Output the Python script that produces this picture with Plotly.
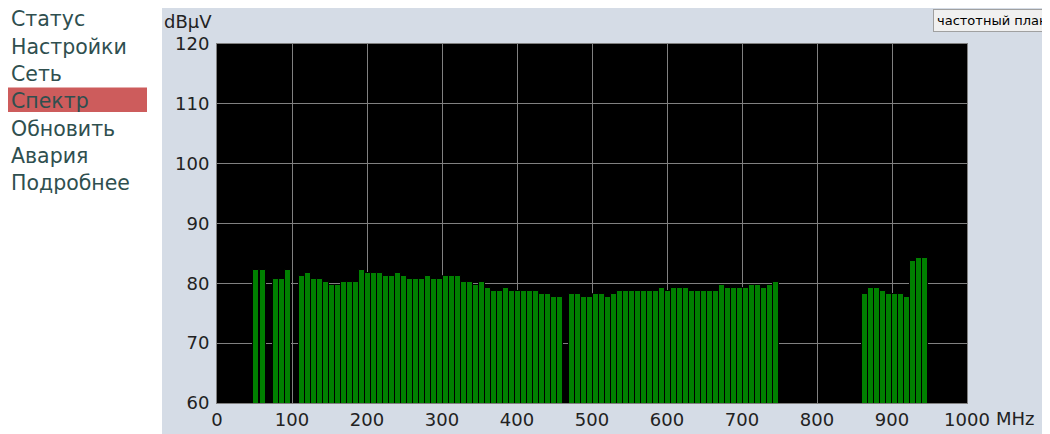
import plotly.graph_objects as go

# ---- data ----
freq_vhf_low = [52, 61, 79, 87, 95]
level_vhf_low = [82.2, 82.2, 80.7, 80.7, 82.2]

freq_cable = [113, 121, 129, 137, 145, 153, 161, 169, 177, 185, 193, 201, 209, 217, 225,
              233, 241, 249, 257, 265, 273, 281, 289, 297, 305, 313, 321, 329, 337, 345,
              353, 361, 369, 377, 385, 393, 401, 409, 417, 425, 433, 441, 449, 457]
level_cable = [81.3, 81.7, 80.7, 80.7, 80.3, 79.7, 79.7, 80.3, 80.3, 80.3, 82.2, 81.7, 81.7, 81.7, 81.3,
               81.3, 81.7, 81.3, 80.7, 80.7, 80.7, 81.3, 80.7, 80.7, 81.3, 81.3, 81.3, 80.3, 80.3, 79.7,
               80.3, 79.3, 78.7, 78.7, 79.3, 78.7, 78.7, 78.7, 78.7, 78.7, 78.3, 78.3, 77.7, 77.7]

freq_uhf = [473, 481, 489, 497, 505, 513, 521, 529, 537, 545, 553, 561, 569, 577, 585,
            593, 601, 609, 617, 625, 633, 641, 649, 657, 665, 673, 681, 689, 697, 705,
            713, 721, 729, 737, 745]
level_uhf = [78.3, 78.3, 77.7, 77.7, 78.3, 78.3, 77.7, 78.3, 78.7, 78.7, 78.7, 78.7, 78.7, 78.7, 78.7,
             79.3, 78.7, 79.3, 79.3, 79.3, 78.7, 78.7, 78.7, 78.7, 78.7, 79.7, 79.3, 79.3, 79.3, 79.3,
             79.7, 79.7, 79.3, 79.7, 80.3]

freq_high = [864, 872, 880, 888, 896, 904, 912, 920, 928, 936, 944]
level_high = [78.3, 79.3, 79.3, 78.7, 78.3, 78.3, 78.3, 77.7, 83.7, 84.3, 84.3]

x_ticks = [0, 100, 200, 300, 400, 500, 600, 700, 800, 900, 1000]
x_tick_labels = ["0", "100", "200", "300", "400", "500", "600", "700", "800", "900", "1000"]
y_ticks = [60, 70, 80, 90, 100, 110, 120]
menu_items = ["Статус", "Настройки", "Сеть", "Спектр", "Обновить", "Авария", "Подробнее"]

freqs = freq_vhf_low + freq_cable + freq_uhf + freq_high
levels = level_vhf_low + level_cable + level_uhf + level_high

# ---- layout geometry (page pixels; the page body has an 8px margin) ----
OFF = 8
W, H = 1050 - OFF, 434 - OFF
PL, PR, PT, PB = 217, 967, 44, 403   # plot area in page pixels
FONT = "DejaVu Sans"
PANEL = "#d5dce6"


def px(x):
    return (x - PL) / (PR - PL)


def py(y):
    return (PB - y) / (PB - PT)


fig = go.Figure()
fig.add_trace(go.Bar(
    x=freqs, y=levels, width=8,
    marker=dict(color="#008000", line=dict(width=1, color="#000000")),
    hoverinfo="x+y",
))

shapes = [
    # white page area left of the grey panel
    dict(type="rect", xref="paper", yref="paper", x0=px(-20), x1=px(162), y0=py(460), y1=py(-20),
         fillcolor="white", line=dict(width=0), layer="below"),
    # active menu highlight
    dict(type="rect", xref="paper", yref="paper", x0=px(2), x1=px(147), y0=py(112), y1=py(87.5),
         fillcolor="#cd5c5c", line=dict(width=0), layer="below"),
]

annotations = []
menu_y0 = 19.5
menu_step = 27.3
for i, item in enumerate(menu_items):
    annotations.append(dict(
        text=item, xref="paper", yref="paper", x=px(9), y=py(menu_y0 + i * menu_step),
        xanchor="left", yanchor="middle", showarrow=False,
        font=dict(family=FONT, size=20.5, color="#2f4f4f"),
    ))

annotations.append(dict(
    text="dBμV", xref="paper", yref="paper", x=px(162), y=py(21.5),
    xanchor="left", yanchor="middle", showarrow=False,
    font=dict(family=FONT, size=18, color="#222222"),
))
annotations.append(dict(
    text="MHz", xref="paper", yref="paper", x=px(994), y=py(418.5),
    xanchor="left", yanchor="middle", showarrow=False,
    font=dict(family=FONT, size=18, color="#222222"),
))
annotations.append(dict(
    text="частотный план", xref="paper", yref="paper", x=px(933), y=py(20.5),
    xanchor="left", yanchor="middle", showarrow=False,
    font=dict(family=FONT, size=13, color="#000000"),
    bgcolor="#f0f0f0", bordercolor="#a0a0a0", borderwidth=1, borderpad=3,
))

fig.update_layout(
    template="none",
    width=W, height=H, autosize=False,
    margin=dict(l=PL - OFF, r=1050 - PR, t=PT - OFF, b=434 - PB, pad=0, autoexpand=False),
    paper_bgcolor=PANEL, plot_bgcolor="#000000",
    showlegend=False, bargap=0,
    shapes=shapes, annotations=annotations,
    font=dict(family=FONT, size=18, color="#222222"),
    xaxis=dict(range=[0, 1000], tickvals=x_ticks, ticktext=x_tick_labels,
               showgrid=True, gridcolor="#808080", gridwidth=1, zeroline=False,
               showline=True, linecolor="#808080", linewidth=1, mirror=True,
               ticks="", ticklabelstandoff=0, fixedrange=True, automargin=False,
               tickfont=dict(family=FONT, size=18, color="#222222")),
    yaxis=dict(range=[60, 120], tickvals=y_ticks,
               showgrid=True, gridcolor="#808080", gridwidth=1, zeroline=False,
               showline=True, linecolor="#808080", linewidth=1, mirror=True,
               ticks="", ticklabelstandoff=3, fixedrange=True, automargin=False,
               tickfont=dict(family=FONT, size=18, color="#222222")),
)

fig.write_html("out.html", config={"displayModeBar": False})
